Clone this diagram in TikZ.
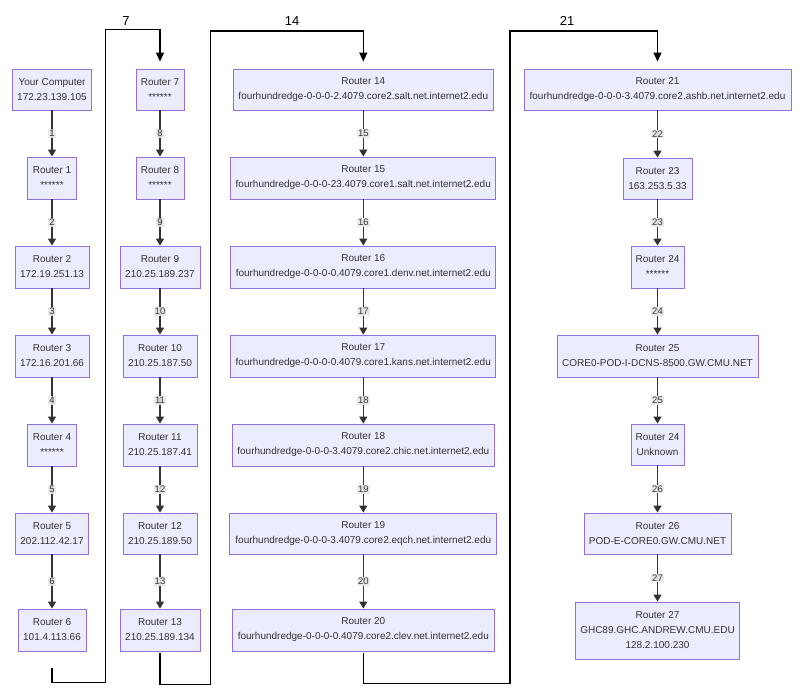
\documentclass[tikz,border=0pt]{standalone}
\usepackage{fontspec}
\setmainfont{Liberation Sans}
\usetikzlibrary{arrows.meta}
\definecolor{boxfill}{HTML}{ECECFF}
\definecolor{boxdraw}{HTML}{9370DB}
\definecolor{textc}{HTML}{333333}
\definecolor{lblbg}{HTML}{E8E8E8}
\tikzset{
  rbox/.style={draw=boxdraw, fill=boxfill, line width=0.9pt, text=textc, align=center,
    inner sep=0pt, font=\fontsize{10}{15}\selectfont, minimum height=42pt},
  edge/.style={draw=textc, line width=1.3pt, -{Triangle[length=7pt,width=8pt]}},
  elabel/.style={fill=lblbg, fill opacity=0.9, text opacity=1, text=textc, inner sep=1pt,
    font=\fontsize{9.5}{11}\selectfont},
  conn/.style={draw=black, line width=1.2pt, -{Triangle[length=9pt,width=8pt]}, shorten >=7pt},
  clabel/.style={font=\fontsize{13}{15}\selectfont, text=black, inner sep=0pt}
}
\begin{document}
\begin{tikzpicture}[x=1pt, y=-1pt]
\useasboundingbox (0,0) rectangle (807,695);
% column 1
\node[rbox, minimum width=79pt, minimum height=41pt] (c0) at (52,89.5) {Your Computer\\172.23.139.105};
\node[rbox, minimum width=49pt] (r1) at (52,178) {Router 1\\******};
\node[rbox, minimum width=74pt] (r2) at (52,267) {Router 2\\172.19.251.13};
\node[rbox, minimum width=74pt] (r3) at (52,356) {Router 3\\172.16.201.66};
\node[rbox, minimum width=49pt] (r4) at (52,445) {Router 4\\******};
\node[rbox, minimum width=73pt, minimum height=41pt] (r5) at (52,533.5) {Router 5\\202.112.42.17};
\node[rbox, minimum width=68pt] (r6) at (52,630) {Router 6\\101.4.113.66};
% column 2
\node[rbox, minimum width=48pt, minimum height=41pt] (r7) at (160,89.5) {Router 7\\******};
\node[rbox, minimum width=48pt] (r8) at (160,178) {Router 8\\******};
\node[rbox, minimum width=80pt] (r9) at (160,267) {Router 9\\210.25.189.237};
\node[rbox, minimum width=74pt] (r10) at (160,356) {Router 10\\210.25.187.50};
\node[rbox, minimum width=74pt] (r11) at (160,445) {Router 11\\210.25.187.41};
\node[rbox, minimum width=74pt, minimum height=41pt] (r12) at (160,533.5) {Router 12\\210.25.189.50};
\node[rbox, minimum width=80pt] (r13) at (160,630) {Router 13\\210.25.189.134};
% column 3
\node[rbox, minimum width=260pt, minimum height=41pt] (r14) at (363.3,89.5) {Router 14\\fourhundredge-0-0-0-2.4079.core2.salt.net.internet2.edu};
\node[rbox, minimum width=265pt] (r15) at (363.3,178) {Router 15\\fourhundredge-0-0-0-23.4079.core1.salt.net.internet2.edu};
\node[rbox, minimum width=265pt] (r16) at (363.3,267) {Router 16\\fourhundredge-0-0-0-0.4079.core1.denv.net.internet2.edu};
\node[rbox, minimum width=265pt] (r17) at (363.3,356) {Router 17\\fourhundredge-0-0-0-0.4079.core1.kans.net.internet2.edu};
\node[rbox, minimum width=262pt] (r18) at (363.3,445) {Router 18\\fourhundredge-0-0-0-3.4079.core2.chic.net.internet2.edu};
\node[rbox, minimum width=267pt, minimum height=41pt] (r19) at (363.3,533.5) {Router 19\\fourhundredge-0-0-0-3.4079.core2.eqch.net.internet2.edu};
\node[rbox, minimum width=262pt] (r20) at (363.3,630) {Router 20\\fourhundredge-0-0-0-0.4079.core2.clev.net.internet2.edu};
% column 4
\node[rbox, minimum width=267pt, minimum height=41pt] (r21) at (657.5,89.5) {Router 21\\fourhundredge-0-0-0-3.4079.core2.ashb.net.internet2.edu};
\node[rbox, minimum width=69pt, minimum height=41pt] (r23) at (657.5,178.5) {Router 23\\163.253.5.33};
\node[rbox, minimum width=53pt] (r24) at (657.5,267) {Router 24\\******};
\node[rbox, minimum width=201pt] (r25) at (657.5,356) {Router 25\\CORE0-POD-I-DCNS-8500.GW.CMU.NET};
\node[rbox, minimum width=53pt, minimum height=41pt] (r24u) at (657.5,444.5) {Router 24\\Unknown};
\node[rbox, minimum width=147pt, minimum height=41pt] (r26) at (657.5,533.5) {Router 26\\POD-E-CORE0.GW.CMU.NET};
\node[rbox, minimum width=164pt, minimum height=57pt] (r27) at (657.5,630.5) {Router 27\\GHC89.GHC.ANDREW.CMU.EDU\\128.2.100.230};
% grey edges
\draw[edge] (c0) -- node[elabel]{1} (r1);
\draw[edge] (r1) -- node[elabel]{2} (r2);
\draw[edge] (r2) -- node[elabel]{3} (r3);
\draw[edge] (r3) -- node[elabel]{4} (r4);
\draw[edge] (r4) -- node[elabel]{5} (r5);
\draw[edge] (r5) -- node[elabel]{6} (r6);
\draw[edge] (r7) -- node[elabel]{8} (r8);
\draw[edge] (r8) -- node[elabel]{9} (r9);
\draw[edge] (r9) -- node[elabel]{10} (r10);
\draw[edge] (r10) -- node[elabel]{11} (r11);
\draw[edge] (r11) -- node[elabel]{12} (r12);
\draw[edge] (r12) -- node[elabel]{13} (r13);
\draw[edge] (r14) -- node[elabel]{15} (r15);
\draw[edge] (r15) -- node[elabel]{16} (r16);
\draw[edge] (r16) -- node[elabel]{17} (r17);
\draw[edge] (r17) -- node[elabel]{18} (r18);
\draw[edge] (r18) -- node[elabel]{19} (r19);
\draw[edge] (r19) -- node[elabel]{20} (r20);
\draw[edge] (r21) -- node[elabel]{22} (r23);
\draw[edge] (r23) -- node[elabel]{23} (r24);
\draw[edge] (r24) -- node[elabel]{24} (r25);
\draw[edge] (r25) -- node[elabel]{25} (r24u);
\draw[edge] (r24u) -- node[elabel]{26} (r26);
\draw[edge] (r26) -- node[elabel]{27} (r27);
% black connectors between columns
\coordinate (s6) at ([yshift=-17pt]r6.south);
\draw[conn] (s6) -- ++(0,14) -| (105.5,29.5) -| (r7.north);
\node[clabel] (l7) at (126,21) {7};
\coordinate (s13) at ([yshift=-2pt]r13.south);
\draw[conn] (s13) -- ++(0,31) -| (210.5,31) -| (r14.north);
\node[clabel] (l14) at (292,21) {14};
\coordinate (s20) at ([yshift=-2pt]r20.south);
\draw[conn] (s20) -- ++(0,30) -| (510,31) -| (r21.north);
\node[clabel] (l21) at (567,21) {21};
\end{tikzpicture}
\end{document}
